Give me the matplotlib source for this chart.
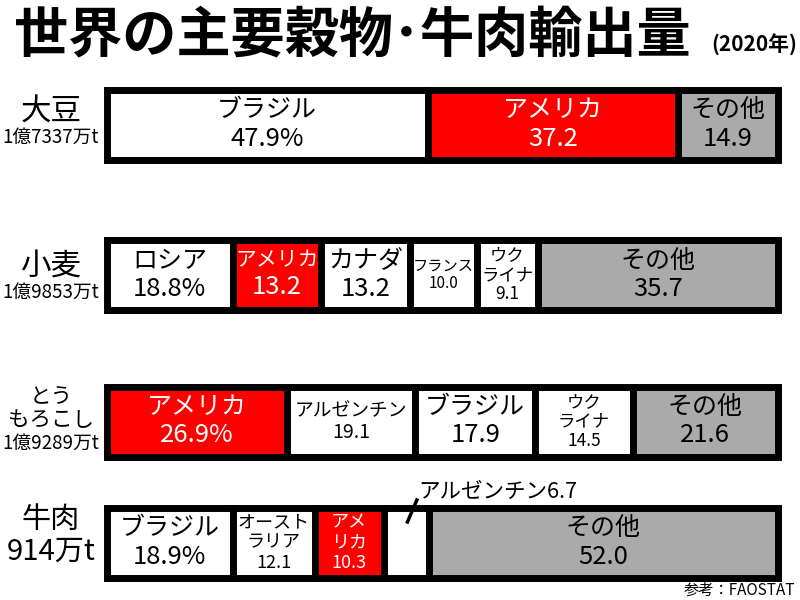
import matplotlib
matplotlib.use("Agg")
import matplotlib.pyplot as plt

plt.rcParams['font.family'] = ['Noto Sans CJK JP', 'DejaVu Sans']

# ---- data ----
crops = ['大豆', '小麦', 'とうもろこし', '牛肉']
totals = ['1億7337万t', '1億9853万t', '1億9289万t', '914万t']

soy_countries = ['ブラジル', 'アメリカ', 'その他']
soy_share = [47.9, 37.2, 14.9]
wheat_countries = ['ロシア', 'アメリカ', 'カナダ', 'フランス', 'ウクライナ', 'その他']
wheat_share = [18.8, 13.2, 13.2, 10.0, 9.1, 35.7]
corn_countries = ['アメリカ', 'アルゼンチン', 'ブラジル', 'ウクライナ', 'その他']
corn_share = [26.9, 19.1, 17.9, 14.5, 21.6]
beef_countries = ['ブラジル', 'オーストラリア', 'アメリカ', 'アルゼンチン', 'その他']
beef_share = [18.9, 12.1, 10.3, 6.7, 52.0]

rows = [(soy_countries, soy_share), (wheat_countries, wheat_share),
        (corn_countries, corn_share), (beef_countries, beef_share)]

# ---- layout / style ----
W, H = 800, 600
row_y = [124.5, 275, 421.5, 542.5]       # pixel centre of each row
bar_h = 70
display_name = {'ウクライナ': 'ウク\nライナ', 'オーストラリア': 'オースト\nラリア'}
BIG = (18, 18.5)
# font sizes for (name, value) per row/segment
sizes = [
    [BIG, BIG, BIG],
    [BIG, (15, 18.5), BIG, (11, 11), (12.5, 12.5), BIG],
    [BIG, (13.5, 14), BIG, (12.5, 12.5), BIG],
    [BIG, (13, 13), (13, 13), None, BIG],
]
RED, GRAY, WHITE = '#ff0000', '#aaaaaa', '#ffffff'

fig = plt.figure(figsize=(8, 6), dpi=100)
ax = fig.add_axes([106.5 / W, 0, 671 / W, 1])
ax.set_xlim(0, 100)
ax.set_ylim(H, 0)
ax.axis('off')


def fx(x):
    return x / W


def fy(y):
    return 1 - y / H


for r, (names, shares) in enumerate(rows):
    colors = [RED if n == 'アメリカ' else GRAY if n == 'その他' else WHITE for n in names]
    lefts = [sum(shares[:i]) for i in range(len(shares))]
    ax.barh(row_y[r], shares, left=lefts, height=bar_h, color=colors,
            edgecolor='black', linewidth=5, clip_on=False)
    for i, (n, v) in enumerate(zip(names, shares)):
        if sizes[r][i] is None:
            continue
        nfs, vfs = sizes[r][i]
        name = display_name.get(n, n)
        if r == 3 and n == 'アメリカ':
            name = 'アメ\nリカ'
        val = f'{v:.1f}%' if i == 0 else f'{v:.1f}'
        lines = [(s, nfs) for s in name.split('\n')] + [(val, vfs)]
        hts = [fs * 1.12 for _, fs in lines]
        total = sum(hts)
        cx = lefts[i] + v / 2
        tc = 'white' if colors[i] == RED else 'black'
        acc = -total / 2
        for (s, fs), h in zip(lines, hts):
            off = acc + h / 2
            acc += h
            ax.annotate(s, xy=(cx, row_y[r]), xytext=(0, -off),
                        textcoords='offset points', ha='center', va='center',
                        fontsize=fs, color=tc, annotation_clip=False)

# beef Argentina callout
arg_left = sum(beef_share[:3])
arg_c = arg_left + beef_share[3] / 2
ax.plot([arg_c + 0.2, arg_c + 1.6], [522, 500], color='black', lw=2.5, clip_on=False)
ax.text(arg_c + 1.8, 492, f'{beef_countries[3]}{beef_share[3]:.1f}',
        ha='left', va='center', fontsize=15.5)

# row labels
fig.text(fx(51), fy(112), crops[0], ha='center', va='center', fontsize=22)
fig.text(fx(51), fy(137), totals[0], ha='center', va='center', fontsize=13.5)
fig.text(fx(51), fy(266), crops[1], ha='center', va='center', fontsize=22)
fig.text(fx(51), fy(292), totals[1], ha='center', va='center', fontsize=13.5)
fig.text(fx(51), fy(397), crops[2][:2], ha='center', va='center', fontsize=15.5)
fig.text(fx(51), fy(420), crops[2][2:], ha='center', va='center', fontsize=15.5)
fig.text(fx(51), fy(443), totals[2], ha='center', va='center', fontsize=13.5)
fig.text(fx(51), fy(520), crops[3], ha='center', va='center', fontsize=21)
fig.text(fx(51), fy(552), totals[3], ha='center', va='center', fontsize=21)

# title
fig.text(fx(14), fy(36), '世界の主要穀物･牛肉輸出量', ha='left', va='center',
         fontsize=39, fontweight='bold')
fig.text(fx(797), fy(45), '(2020年)', ha='right', va='center',
         fontsize=15, fontweight='bold')
fig.text(fx(795), fy(590), '参考：FAOSTAT', ha='right', va='center', fontsize=11)

fig.savefig('out.png', dpi=100, facecolor='white')
